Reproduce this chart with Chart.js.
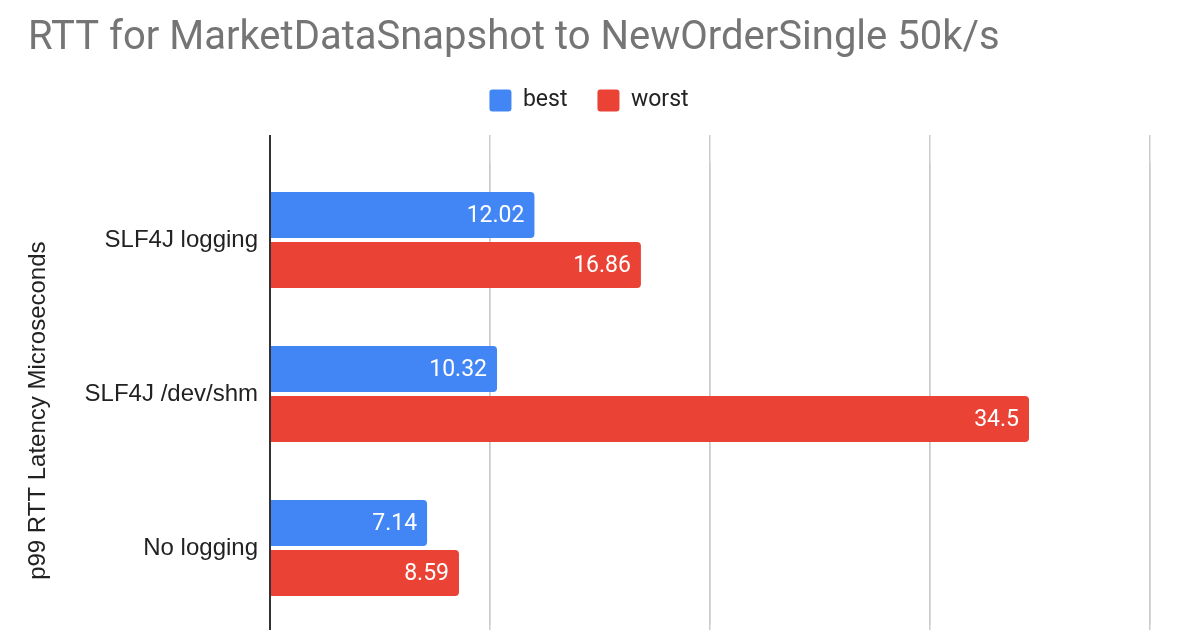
<!DOCTYPE html>
<html>
<head>
    <title>RTT for MarketDataSnapshot to NewOrderSingle 50k/s</title>
    <script src="https://cdn.jsdelivr.net/npm/chart.js"></script>
    <style>
        html, body { margin: 0; padding: 0; background: #fff; }
        #wrap { width: 1177px; height: 630px; }
    </style>
</head>
<body>
    <div id="wrap"><canvas id="rttChart"></canvas></div>

    <script>
        // Dados do gráfico
        const categories = ["SLF4J logging", "SLF4J /dev/shm", "No logging"];
        const bestValues = [12.02, 10.32, 7.14];
        const worstValues = [16.86, 34.5, 8.59];
        const seriesNames = ["best", "worst"];
        const xTicks = [0, 10, 20, 30, 40];

        const blue = "#4285F4";
        const red = "#EA4335";
        const gridColor = "#cccccc";
        const axisColor = "#333333";
        const arial = "'Liberation Sans', Arial, sans-serif";

        Chart.defaults.font.family = "Roboto, 'Liberation Sans', sans-serif";

        // Rótulos brancos no fim de cada barra
        const barLabels = {
            id: "barLabels",
            afterDatasetsDraw(chart) {
                const ctx = chart.ctx;
                ctx.save();
                ctx.font = "23px Roboto";
                ctx.fillStyle = "#ffffff";
                ctx.textAlign = "right";
                ctx.textBaseline = "middle";
                chart.data.datasets.forEach((ds, i) => {
                    chart.getDatasetMeta(i).data.forEach((bar, j) => {
                        ctx.fillText(String(ds.data[j]), bar.x - 10, bar.y + 1);
                    });
                });
                ctx.restore();
            }
        };

        const gridOpts = (len) => ({
            color: (c) => c.tick && c.tick.value === 0 ? axisColor : gridColor,
            lineWidth: (c) => c.tick && c.tick.value === 0 ? 2 : 1.5,
            tickLength: len,
            drawTicks: true
        });

        new Chart(document.getElementById("rttChart"), {
            type: "bar",
            data: {
                labels: categories,
                datasets: [
                    { label: seriesNames[0], data: bestValues, backgroundColor: blue },
                    { label: seriesNames[1], data: worstValues, backgroundColor: red }
                ]
            },
            options: {
                indexAxis: "y",
                responsive: true,
                maintainAspectRatio: false,
                animation: false,
                layout: { padding: { left: 28, right: 27, top: 0, bottom: 0 } },
                datasets: {
                    bar: {
                        categoryPercentage: 0.65,
                        barPercentage: 0.92,
                        borderRadius: 4,
                        borderSkipped: "start"
                    }
                },
                plugins: {
                    title: {
                        display: true,
                        text: "RTT for MarketDataSnapshot to NewOrderSingle 50k/s",
                        align: "start",
                        color: "#757575",
                        font: { size: 40, weight: "normal", lineHeight: 1 },
                        padding: { top: 19, bottom: 0 }
                    },
                    legend: {
                        position: "top",
                        labels: {
                            color: "#222222",
                            font: { size: 23 },
                            boxWidth: 22,
                            boxHeight: 22,
                            useBorderRadius: true,
                            borderRadius: 3,
                            padding: 30
                        }
                    },
                    tooltip: { enabled: false }
                },
                scales: {
                    x: {
                        position: "bottom",
                        min: 0,
                        max: 40,
                        afterBuildTicks: (s) => { s.ticks = xTicks.map(v => ({ value: v })); },
                        ticks: { display: false },
                        grid: gridOpts(5),
                        border: { display: false }
                    },
                    xTop: {
                        axis: "x",
                        position: "top",
                        min: 0,
                        max: 40,
                        afterBuildTicks: (s) => { s.ticks = xTicks.map(v => ({ value: v })); },
                        ticks: { display: false },
                        grid: gridOpts(28),
                        border: { display: false },
                        // espaço vazio entre a legenda e o topo das linhas de grade
                        title: { display: true, text: "", font: { size: 1, lineHeight: 1 }, padding: { top: 12, bottom: 0 } }
                    },
                    y: {
                        afterFit: (s) => {
                            s.width = 242;
                            s.paddingTop = 0;
                            s.paddingBottom = 0;
                        },
                        grid: { display: false },
                        border: { display: false },
                        ticks: { color: "#222222", font: { size: 24, family: arial }, padding: 4 },
                        title: {
                            display: true,
                            // espaços no fim deslocam o texto um pouco para baixo
                            text: "p99 RTT Latency Microseconds     ",
                            color: "#222222",
                            font: { size: 24, family: arial },
                            padding: { top: -4, bottom: 0 }
                        }
                    }
                }
            },
            plugins: [barLabels]
        });
    </script>
</body>
</html>
